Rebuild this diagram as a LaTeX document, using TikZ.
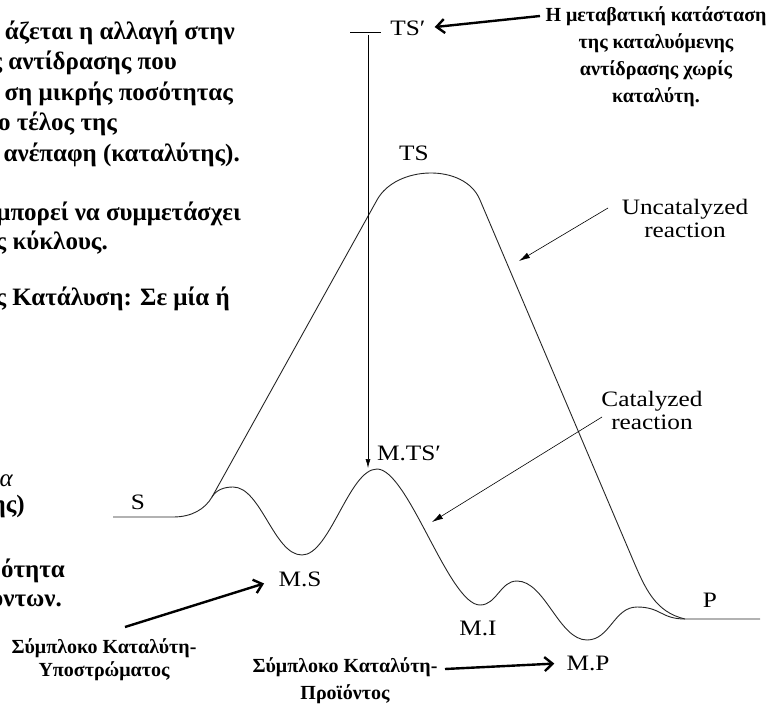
\documentclass[tikz,border=0pt]{standalone}
\usepackage{fontspec}
\setmainfont{Liberation Serif}
\newfontfamily\lblfont{Liberation Serif}[FakeStretch=1.15]
\usepackage{tikz}
\usetikzlibrary{calc,arrows.meta}

\begin{document}
\begin{tikzpicture}[x=1pt,y=-1pt,
	curve/.style={line width=0.9pt,black!85},
	lbl/.style={font=\lblfont\fontsize{22}{23}\selectfont,inner sep=0pt,align=center},
	note/.style={font=\bfseries\fontsize{20}{27}\selectfont,inner sep=0pt,align=center},
	cutline/.style={anchor=base east,inner sep=0pt,font=\bfseries\fontsize{25}{30}\selectfont},
	thinarrow/.style={-{Latex[length=11pt,width=6pt]},line width=0.6pt},
	boldarrow/.style={-{Straight Barb[length=8pt,width=14pt]},line width=2.4pt}]
	\useasboundingbox (0,0) rectangle (777,704);
	\clip (0,0) rectangle (777,704);
	% text cut off at the left edge
	\node[cutline] at (235,39) {άζεται η αλλαγή στην};
	\node[cutline] at (177,69) {ς αντίδρασης που};
	\node[cutline] at (233,100) {ση μικρής ποσότητας};
	\node[cutline] at (117,130) {ο τέλος της};
	\node[cutline] at (240,161) {ανέπαφη (καταλύτης).};
	\node[cutline] at (241,220) {μπορεί να συμμετάσχει};
	\node[cutline] at (108,249) {ς κύκλους.};
	\node[cutline] at (230,305) {ς Κατάλυση: Σε μία ή};
	\node[cutline,font=\itshape\fontsize{25}{30}\selectfont] at (13,486) {α};
	\node[cutline] at (25,512) {ης)};
	\node[cutline] at (65,577) {ότητα};
	\node[cutline] at (62,606) {οντων.};
	% energy curves
	\draw[curve] (113,517) -- (173,517) .. controls (192,517) and (205,509) .. (212,497) -- (377,200)
		.. controls (396,165) and (465,163) .. (480,200) -- (633,560)
		.. controls (645,588) and (655,612) .. (685,619) -- (760,619);
	\draw[curve] (212,497) .. controls (216,490) and (224,487) .. (233,487)
		.. controls (261,487) and (274,555) .. (302,555)
		.. controls (330,555) and (349,469) .. (377,469)
		.. controls (408,469) and (449,605) .. (480,605)
		.. controls (497,605) and (500,581) .. (517,581)
		.. controls (545,581) and (559,640) .. (587,640)
		.. controls (610,640) and (614,607) .. (637,607)
		.. controls (661,607) and (661,619) .. (685,619);
	% labels
	\node[lbl] (s) at (138,502) {S};
	\node[lbl] (p) at (710,600) {P};
	\node[lbl] (ts) at (414,153) {TS};
	\node[lbl] (tsp) at (408,28) {TS′};
	\node[lbl] (mts) at (409,453) {M.TS′};
	\node[lbl] (ms) at (300,579) {M.S};
	\node[lbl] (mi) at (478,628) {M.I};
	\node[lbl] (mp) at (588,663) {M.P};
	\node[lbl] (uncat) at (685,218) {Uncatalyzed\\reaction};
	\node[lbl] (cat) at (652,410) {Catalyzed\\reaction};
	% bold notes
	\node[note] (tsnote) at (656,57) {Η μεταβατική κατάσταση\\της καταλυόμενης\\αντίδρασης χωρίς\\καταλύτη.};
	\node[note,font=\bfseries\fontsize{20}{23}\selectfont] (subnote) at (104,660) {Σύμπλοκο Καταλύτη-\\Υποστρώματος};
	\node[note] (prodnote) at (345,681) {Σύμπλοκο Καταλύτη-\\Προϊόντος};
	% arrows
	\coordinate (tsbar) at (368,32);
	\coordinate (mtstip) at (368,468);
	\draw[line width=0.6pt] (350,32) -- (381,32);
	\draw[thinarrow,-{Latex[length=9pt,width=5pt]}] ($(tsbar)+(0,3)$) -- (mtstip);
	\coordinate (unctail) at (608,208);
	\coordinate (unctip) at (519,261);
	\draw[thinarrow] (unctail) -- (unctip);
	\coordinate (cattail) at (602,417);
	\coordinate (cattip) at (432,522);
	\draw[thinarrow] (cattail) -- (cattip);
	\coordinate (notetail) at (540,16);
	\draw[boldarrow,shorten >=9pt] (notetail) -- (tsp.east);
	\coordinate (subtail) at (125,627);
	\draw[boldarrow,shorten >=15pt] (subtail) -- (ms.west);
	\coordinate (prodtail) at (445,669);
	\draw[boldarrow,shorten >=12pt] (prodtail) -- (mp.west);
\end{tikzpicture}
\end{document}
